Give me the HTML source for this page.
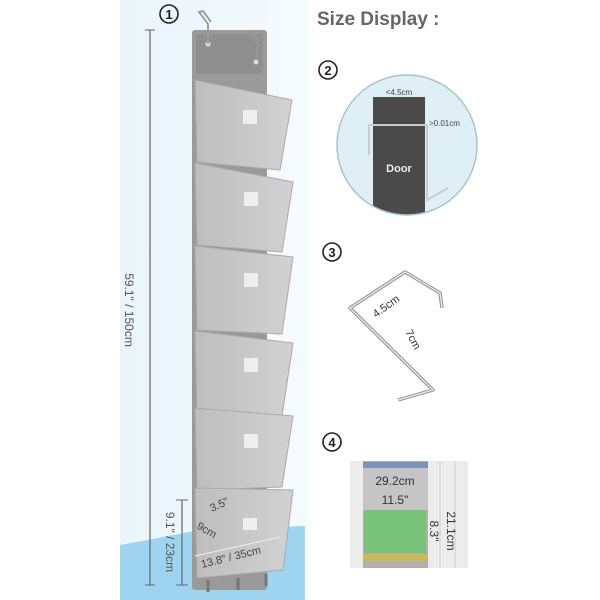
<!DOCTYPE html>
<html><head><meta charset="utf-8"><style>
html,body{margin:0;padding:0;background:#fff;}
svg{display:block}
text{font-family:"Liberation Sans",sans-serif}
</style></head><body>
<svg width="600" height="600" viewBox="0 0 600 600">
<defs>
<linearGradient id="bg" x1="0" x2="1"><stop offset="0" stop-color="#eaf5fb"/><stop offset="1" stop-color="#f5fafd"/></linearGradient>
<linearGradient id="pk" x1="0" x2="1"><stop offset="0" stop-color="#bdbdbd"/><stop offset="1" stop-color="#d2d2d2"/></linearGradient>
<clipPath id="cc"><circle cx="407" cy="145" r="70"/></clipPath>
</defs>
<rect x="0" y="0" width="600" height="600" fill="#fff"/>
<rect x="120" y="0" width="188" height="600" fill="url(#bg)"/>
<polygon points="120,545 200,530 305,526 305,600 120,600" fill="#9ed4f0"/>
<!-- dimension lines -->
<line x1="150" y1="30" x2="150" y2="585" stroke="#666" stroke-width="1.2"/>
<line x1="145" y1="30" x2="155" y2="30" stroke="#666"/>
<line x1="145" y1="585" x2="155" y2="585" stroke="#666"/>
<text transform="translate(125,310) rotate(90)" font-size="12" fill="#555" text-anchor="middle">59.1" / 150cm</text>
<line x1="182" y1="500" x2="182" y2="585" stroke="#666" stroke-width="1.2"/>
<line x1="176" y1="500" x2="188" y2="500" stroke="#666"/>
<line x1="176" y1="585" x2="188" y2="585" stroke="#666"/>
<text transform="translate(166,542) rotate(90)" font-size="12" fill="#555" text-anchor="middle">9.1" / 23cm</text>
<!-- circled 1 -->
<circle cx="169" cy="14" r="9" fill="none" stroke="#222" stroke-width="1.6"/>
<text x="169" y="19" font-size="13" font-weight="bold" text-anchor="middle" fill="#222">1</text>
<!-- back panel -->
<rect x="192" y="30" width="75" height="560" rx="3" fill="#9a9a9a"/>
<rect x="196" y="34" width="67" height="40" fill="#8f8f8f"/>
<circle cx="208" cy="44" r="2.5" fill="#ddd"/><circle cx="256" cy="62" r="2.5" fill="#ddd"/>
<!-- hooks -->
<path d="M208,44 L208,24 L199,12 L203,11 L211,22" fill="none" stroke="#999" stroke-width="1.8"/>
<path d="M256,60 L258,44 L248,32 L252,31 L260,42" fill="none" stroke="#999" stroke-width="1.8"/>
<!-- pockets -->
<g>
<polygon points="195,80 292,100 280,170 197,162" fill="url(#pk)" stroke="#aaa"/>
<polygon points="195,163 293,182 282,252 197,245" fill="url(#pk)" stroke="#aaa"/>
<polygon points="195,246 293,257 282,334 197,330" fill="url(#pk)" stroke="#aaa"/>
<polygon points="195,331 293,343 282,416 197,414" fill="url(#pk)" stroke="#aaa"/>
<polygon points="195,408 293,416 282,487 197,490" fill="url(#pk)" stroke="#aaa"/>
<polygon points="195,488 293,490 283,570 197,578" fill="url(#pk)" stroke="#aaa"/>
<rect x="243" y="110" width="14" height="14" fill="#eee"/>
<rect x="244" y="192" width="14" height="14" fill="#eee"/>
<rect x="244" y="273" width="14" height="14" fill="#eee"/>
<rect x="244" y="358" width="14" height="14" fill="#eee"/>
<rect x="244" y="434" width="14" height="14" fill="#eee"/>
<rect x="243" y="518" width="14" height="12" fill="#eee"/>
</g>
<path d="M208,580 v12 M238,578 v12 M266,574 v12" stroke="#777" stroke-width="3"/>
<text transform="translate(212,512) rotate(-25)" font-size="11" fill="#444">3.5"</text>
<text transform="translate(196,528) rotate(30)" font-size="11" fill="#444">9cm</text>
<line x1="195" y1="556" x2="280" y2="537" stroke="#eee"/>
<text transform="translate(202,568) rotate(-14)" font-size="11" fill="#444">13.8" / 35cm</text>
<!-- title -->
<text x="317" y="25" font-size="19" font-weight="bold" fill="#666">Size Display :</text>
<!-- circled 2 -->
<circle cx="328" cy="70" r="9" fill="none" stroke="#222" stroke-width="1.6"/>
<text x="328" y="75" font-size="13" font-weight="bold" text-anchor="middle" fill="#222">2</text>
<circle cx="407" cy="145" r="70" fill="#deeff6"/>
<g clip-path="url(#cc)">
<rect x="373" y="97" width="52" height="130" fill="#4a4a4a"/>
</g>
<circle cx="407" cy="145" r="70" fill="none" stroke="#a8c3cc" stroke-width="1.5"/>
<path d="M369,155 V125 H427 V200 L448,188" fill="none" stroke="#ccc" stroke-width="2"/>
<text x="399" y="172" font-size="11" font-weight="bold" fill="#eee" text-anchor="middle">Door</text>
<text x="399" y="95" font-size="8" fill="#444" text-anchor="middle">&lt;4.5cm</text>
<text x="429" y="126" font-size="8" fill="#444">&gt;0.01cm</text>
<!-- circled 3 -->
<circle cx="332" cy="252" r="9" fill="none" stroke="#222" stroke-width="1.6"/>
<text x="332" y="257" font-size="13" font-weight="bold" text-anchor="middle" fill="#222">3</text>
<path d="M442,308 L440,293 L405,272 L350,308 L433,390 L398,400" fill="none" stroke="#999" stroke-width="3.5" stroke-linejoin="round"/>
<path d="M442,308 L440,293 L405,272 L350,308 L433,390 L398,400" fill="none" stroke="#eee" stroke-width="1.2"/>
<text transform="translate(376,318) rotate(-36)" font-size="11" fill="#333">4.5cm</text>
<text transform="translate(405,332) rotate(62)" font-size="11" fill="#333">7cm</text>
<!-- circled 4 -->
<circle cx="332" cy="442" r="9" fill="none" stroke="#222" stroke-width="1.6"/>
<text x="332" y="447" font-size="13" font-weight="bold" text-anchor="middle" fill="#222">4</text>
<rect x="350" y="461" width="118" height="107" fill="#ececec"/>
<rect x="363" y="461" width="65" height="107" fill="#b0b0b0"/>
<rect x="363" y="462" width="65" height="6" fill="#7b93b8"/>
<rect x="363" y="468" width="65" height="42" fill="#c5c5c5"/>
<rect x="364" y="510" width="62" height="43" fill="#79c27a"/>
<rect x="363" y="554" width="65" height="7" fill="#c9b95a"/>
<line x1="440" y1="461" x2="440" y2="568" stroke="#ccc"/>
<line x1="455" y1="461" x2="455" y2="568" stroke="#ccc"/>
<text x="395" y="485" font-size="12" fill="#333" text-anchor="middle">29.2cm</text>
<text x="395" y="504" font-size="12" fill="#333" text-anchor="middle">11.5"</text>
<text transform="translate(430,531) rotate(90)" font-size="12" fill="#333" text-anchor="middle">8.3"</text>
<text transform="translate(447,531) rotate(90)" font-size="12" fill="#333" text-anchor="middle">21.1cm</text>
</svg>
</body></html>
